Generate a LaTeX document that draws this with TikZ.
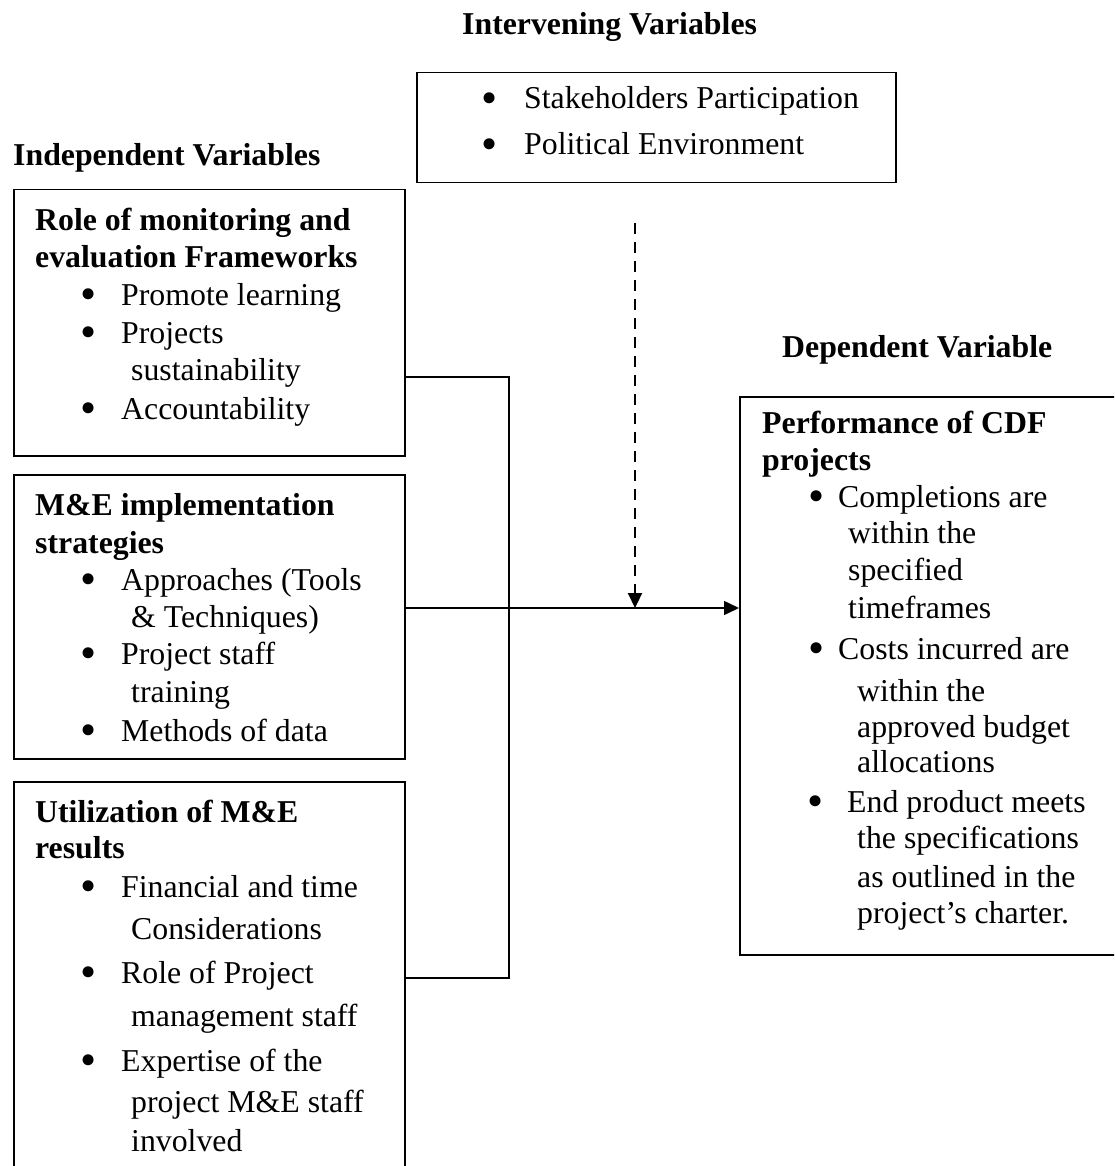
\documentclass[tikz,border=0pt]{standalone}
\usepackage{fontspec}
\setmainfont{Liberation Serif}
\usetikzlibrary{arrows.meta}
\newcommand\bul[1]{\llap{\smash{\fontsize{46}{46}\selectfont\raisebox{-4.5pt}{\textbullet}}\hspace{#1pt}}}
\begin{document}
\begin{tikzpicture}[x=1pt,y=-1pt,
  box/.style={draw, line width=1.5pt, rectangle, anchor=north west, inner sep=0pt},
  txt/.style={anchor=base west, inner sep=0pt, font=\fontsize{31.8}{38}\selectfont},
  hd/.style={txt, font=\fontsize{31.8}{38}\selectfont\bfseries},
  conn/.style={line width=1.5pt},
  tip/.style={-{Triangle[length=15pt,width=14pt]}}]
\clip (0,0) rectangle (1114,1166);
\useasboundingbox (0,0) rectangle (1114,1166);
% headings
\node[hd] (hint) at (462,35) {Intervening Variables};
\node[hd] (hind) at (13,166) {Independent Variables};
\node[hd] (hdep) at (782,357) {Dependent Variable};
% boxes
\node[box, minimum width=479pt, minimum height=110pt] (int) at (416,72) {};
\node[box, minimum width=391pt, minimum height=266pt] (ind1) at (13,189) {};
\node[box, minimum width=391pt, minimum height=284pt] (ind2) at (13,474) {};
\node[box, minimum width=391pt, minimum height=420pt] (ind3) at (13,781) {};
\node[box, minimum width=400pt, minimum height=558pt] (dep) at (739,396) {};
% intervening text
\node[txt] (i1) at (524,109) {\bul{27}Stakeholders Participation};
\node[txt] (i2) at (524,155) {\bul{27}Political Environment};
% box 1
\node[hd] (a1) at (35,230) {Role of monitoring and};
\node[hd] (a2) at (35,267) {evaluation Frameworks};
\node[txt] (a3) at (121,305) {\bul{25}Promote learning};
\node[txt] (a4) at (121,343) {\bul{25}Projects};
\node[txt] (a5) at (131,380) {sustainability};
\node[txt] (a6) at (121,419) {\bul{25}Accountability};
% box 2
\node[hd] (b1) at (35,515) {M\&E implementation};
\node[hd] (b2) at (35,553) {strategies};
\node[txt] (b3) at (121,590) {\bul{25}Approaches (Tools};
\node[txt] (b4) at (131,627) {\& Techniques)};
\node[txt] (b5) at (121,664) {\bul{25}Project staff};
\node[txt] (b6) at (131,702) {training};
\node[txt] (b7) at (121,741) {\bul{25}Methods of data};
% box 3
\node[hd] (c1) at (35,822) {Utilization of M\&E};
\node[hd] (c2) at (35,858) {results};
\node[txt] (c3) at (121,897) {\bul{25}Financial and time};
\node[txt] (c4) at (131,939) {Considerations};
\node[txt] (c5) at (121,983) {\bul{25}Role of Project};
\node[txt] (c6) at (131,1026) {management staff};
\node[txt] (c7) at (121,1071) {\bul{25}Expertise of the};
\node[txt] (c8) at (131,1112) {project M\&E staff};
\node[txt] (c9) at (131,1151) {involved};
% dependent box
\node[hd] (d1) at (762,433) {Performance of CDF};
\node[hd] (d2) at (762,470) {projects};
\node[txt] (d3) at (838,507) {\bul{14}Completions are};
\node[txt] (d4) at (848,543) {within the};
\node[txt] (d5) at (848,580) {specified};
\node[txt] (d6) at (848,618) {timeframes};
\node[txt] (d7) at (838,659) {\bul{14}Costs incurred are};
\node[txt] (d8) at (857,701) {within the};
\node[txt] (d9) at (857,737) {approved budget};
\node[txt] (d10) at (857,772) {allocations};
\node[txt] (d11) at (847,812) {\bul{24}End product meets};
\node[txt] (d12) at (857,848) {the specifications};
\node[txt] (d13) at (857,887) {as outlined in the};
\node[txt] (d14) at (857,923) {project’s charter.};
% connectors
\coordinate (j1) at (509,377);
\coordinate (j3) at (509,978);
\coordinate (m) at (635,608);
\coordinate (ds) at (635,223);
\draw[conn] (ind1.east |- j1) -- (j1) -- (j3) -- (ind3.east |- j3);
\draw[conn, tip] (ind2.east |- m) -- (dep.west |- m);
\draw[conn, tip, line width=2.2pt, dash pattern=on 11pt off 8pt] (ds) -- (m);
\end{tikzpicture}
\end{document}
